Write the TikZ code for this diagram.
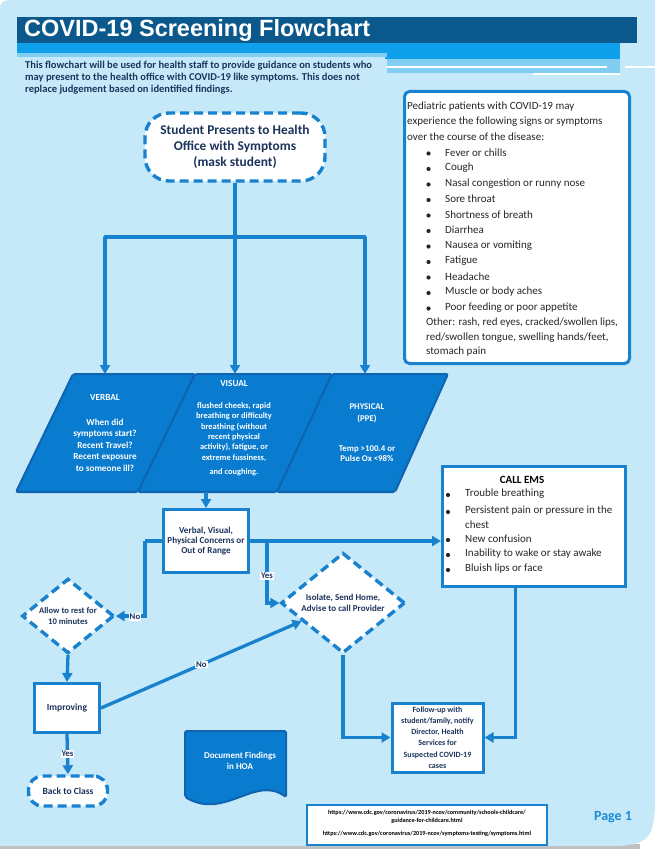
\documentclass[tikz,border=0pt]{standalone}
\usepackage{fontspec}
\setmainfont{Carlito}
\newfontfamily\titlefont{Liberation Sans}
\usetikzlibrary{arrows.meta,shapes.geometric,calc}
\definecolor{bgblue}{RGB}{198,233,250}
\definecolor{lineblue}{RGB}{24,130,206}
\definecolor{paraedge}{RGB}{16,100,175}
\definecolor{parafill}{RGB}{10,124,208}
\definecolor{darkbar}{RGB}{11,88,140}
\definecolor{brightbar}{RGB}{14,160,235}
\definecolor{lightbar}{RGB}{130,205,242}
\definecolor{navy}{RGB}{28,52,92}
\definecolor{pageblue}{RGB}{30,140,210}
\tikzset{
  conn/.style={draw=lineblue, line width=3.3, -{Triangle[length=9,width=10]}},
  plainline/.style={draw=lineblue, line width=3.3},
  whitebox/.style={draw=lineblue, line width=3, fill=white, inner sep=1},
  dashbox/.style={draw=lineblue, line width=3.4, dash pattern=on 9 off 5, fill=white, inner sep=1},
  paraedge/.style={draw=paraedge, line width=2, fill=parafill, rounded corners=2},
  navytext/.style={text=navy, font=\bfseries\fontsize{9}{10}\selectfont, align=center, inner sep=0},
  paratext/.style={text=white, align=center, inner sep=0},
  lbl/.style={fill=white, text=navy, font=\bfseries\fontsize{8.8}{9}\selectfont, inner sep=1},
  listtext/.style={text=black!85, font=\fontsize{11}{12}\selectfont, inner sep=0, anchor=west},
  introtext/.style={anchor=west, text=navy, font=\bfseries\fontsize{10.5}{12}\selectfont, inner sep=0},
}
\begin{document}
\begin{tikzpicture}[x=1pt,y=-1pt]
\useasboundingbox (0,0) rectangle (655,850);
% page background
\fill[white] (0,0) rectangle (655,850);
\fill[black!25] (0,844) rectangle (640,849);
\fill[bgblue] (10,0) -- (655,0) -- (655,800) .. controls (655,838) and (648,846) .. (612,846) -- (0,846) -- (0,10) .. controls (0,3) and (3,0) .. (10,0) -- cycle;
% banner
\fill[darkbar] (17,17) rectangle (637,43);
\fill[brightbar] (17,43) rectangle (620,53);
\fill[brightbar] (385,53) rectangle (620,59);
\fill[lightbar] (387,59) rectangle (620,73);
\fill[lightbar] (17,53) rectangle (387,57);
\draw[white, line width=1.2] (387,67) -- (607,67);
\draw[white, line width=1.2] (533,74) -- (620,74);
\draw[white, line width=1.2] (625,67) -- (655,67);
\node[anchor=base west, text=white, font=\titlefont\bfseries\fontsize{23.5}{24}\selectfont, inner sep=0] (title) at (24,37) {COVID-19 Screening Flowchart};
% intro
\node[introtext] (intro1) at (25,66) {This flowchart will be used for health staff to provide guidance on students who};
\node[introtext] (intro2) at (25,78) {may present to the health office with COVID-19 like symptoms. This does not};
\node[introtext] (intro3) at (25,90) {replace judgement based on identified findings.};

% symptom box
\node[whitebox, rounded corners=5, minimum width=225, minimum height=272, anchor=north west] (sym) at (403,90) {};
\node[listtext] (symi1) at (407,107) {Pediatric patients with COVID-19 may};
\node[listtext] (symi2) at (407,122) {experience the following signs or symptoms};
\node[listtext] (symi3) at (407,137) {over the course of the disease:};
\foreach \t [count=\i] in {Fever or chills, Cough, Nasal congestion or runny nose, Sore throat, Shortness of breath, Diarrhea, Nausea or vomiting, Fatigue, Headache, Muscle or body aches, Poor feeding or poor appetite}{
  \fill[black!85] (428.5,{138+15.5*\i}) circle (2.1);
  \node[listtext] (syml\i) at (445,{137+15.5*\i}) {\t};
}
\node[listtext] (symo1) at (426,323) {Other: rash, red eyes, cracked/swollen lips,};
\node[listtext] (symo2) at (426,338) {red/swollen tongue, swelling hands/feet,};
\node[listtext] (symo3) at (426,352) {stomach pain};

% start
\node[dashbox, rounded corners=24, minimum width=180, minimum height=68, align=center, text=navy, font=\bfseries\fontsize{13.4}{16.3}\selectfont] (start) at (235,147) {Student Presents to Health\\Office with Symptoms\\(mask student)};

% parallelograms
\draw[paraedge] (73,374) -- (195,374) -- (138,492) -- (16,492) -- cycle;
\draw[paraedge] (195,374) -- (332,374) -- (277,492) -- (138,492) -- cycle;
\draw[paraedge] (332,374) -- (448,374) -- (395,492) -- (277,492) -- cycle;
\coordinate (p1top) at (105,374);
\coordinate (p2top) at (235,374);
\coordinate (p3top) at (365,374);
\coordinate (p2bot) at (206,492);

\node[paratext, font=\bfseries\fontsize{9.2}{11.5}\selectfont] (verbal) at (105,398) {VERBAL};
\node[paratext, font=\bfseries\fontsize{9.2}{11.5}\selectfont] (verbalq) at (105,445) {When did\\symptoms start?\\Recent Travel?\\Recent exposure\\to someone ill?};
\node[paratext, font=\bfseries\fontsize{9.2}{11.5}\selectfont] (visual) at (234,384) {VISUAL};
\node[paratext, font=\bfseries\fontsize{8.4}{10.4}\selectfont] (visualq) at (234,432) {flushed cheeks, rapid\\breathing or difficulty\\breathing (without\\recent physical\\activity), fatigue, or\\extreme fussiness,};
\node[paratext, font=\bfseries\fontsize{8.4}{10.4}\selectfont] (visualc) at (234,472) {and coughing.};
\node[paratext, font=\bfseries\fontsize{8.8}{12}\selectfont] (physical) at (367,413) {PHYSICAL\\(PPE)};
\node[paratext, font=\bfseries\fontsize{8.8}{10}\selectfont] (physq) at (367,453.5) {Temp >100.4 or\\Pulse Ox <98\%};

% top connectors
\coordinate (j) at (235,237);
\coordinate (jl) at (105,237);
\coordinate (jr) at (365,237);
\draw[plainline] (start.south) -- (j);
\draw[plainline, line cap=round] (jl) -- (jr);
\draw[conn] (jl) -- (p1top);
\draw[conn] (j) -- (p2top);
\draw[conn] (jr) -- (p3top);

% concern box
\node[whitebox, minimum width=85, minimum height=63, navytext, font=\bfseries\fontsize{9.1}{10.2}\selectfont] (concern) at (206,541) {Verbal, Visual,\\Physical Concerns or\\Out of Range};
\draw[conn] (p2bot) -- (concern.north);

% CALL EMS
\node[whitebox, minimum width=183, minimum height=120, anchor=north west] (ems) at (441,465) {};
\node[text=black, font=\bfseries\fontsize{11}{12}\selectfont, inner sep=0] (emst) at (522,480) {CALL EMS};
\fill[black!85] (448,495) circle (2.1);
\node[listtext] (emsl1) at (465,494) {Trouble breathing};
\fill[black!85] (448,512) circle (2.1);
\node[listtext] (emsl2) at (465,511) {Persistent pain or pressure in the};
\node[listtext] (emsl2b) at (465,525) {chest};
\fill[black!85] (448,540) circle (2.1);
\node[listtext] (emsl3) at (465,539) {New confusion};
\fill[black!85] (448,555) circle (2.1);
\node[listtext] (emsl4) at (465,554) {Inability to wake or stay awake};
\fill[black!85] (448,570) circle (2.1);
\node[listtext] (emsl5) at (465,569) {Bluish lips or face};

\draw[conn] (concern.east) -- (ems.west |- concern.east);

% isolate diamond
\node[shape=diamond, dashbox, minimum width=124, minimum height=92, inner sep=0, navytext, font=\bfseries\fontsize{9}{11}\selectfont] (isolate) at (343,603) {Isolate, Send Home,\\Advise to call Provider};
\coordinate (yb) at (267,541);
\draw[conn] (yb) |- node[lbl, pos=0.28] {Yes} (isolate.west);

% allow diamond
\node[shape=diamond, dashbox, minimum width=92, minimum height=66, inner sep=0, navytext, font=\bfseries\fontsize{8.6}{11}\selectfont] (allow) at (68,616) {Allow to rest for\\10 minutes};
\coordinate (nb) at (145,541);
\draw[plainline] (concern.west) -- (nb);
\draw[conn] (nb) |- (allow.east);
\node[lbl] (nolbl1) at (135,617) {No};

% improving
\node[whitebox, minimum width=65, minimum height=49, navytext, font=\bfseries\fontsize{9.5}{11}\selectfont] (improv) at (67,708) {Improving};
\draw[conn] (allow.south) -- (improv.north);
\node[dashbox, rounded corners=14, minimum width=79, minimum height=30, navytext, font=\bfseries\fontsize{9.5}{11}\selectfont] (back) at (68,791) {Back to Class};
\draw[conn] (improv.south) -- node[lbl, pos=0.5] {Yes} (back.north);
\draw[conn] (improv.east) -- node[lbl, pos=0.5] {No} ($(isolate.west)!0.35!(isolate.south)$);

% follow-up
\node[whitebox, minimum width=91, minimum height=69, navytext, font=\bfseries\fontsize{8}{11.2}\selectfont] (follow) at (437.5,737.5) {Follow-up with\\student/family, notify\\Director, Health\\Services for\\Suspected COVID-19\\cases};
\draw[conn] (isolate.south) |- (follow.west);
\coordinate (emsbot) at ($(ems.south west)!0.4!(ems.south east)$);
\draw[conn] (emsbot) |- (follow.east);

% document
\draw[paraedge] (185,731) -- (286,731) -- (286,797) .. controls (255,775) and (225,820) .. (185,797) -- cycle;
\node[paratext, font=\bfseries\fontsize{9}{11}\selectfont] (doc) at (240,760.5) {Document Findings\\in HOA};

% links
\node[whitebox, line width=2.2, minimum width=240, minimum height=40] (links) at (427,825) {};
\node[text=black, font=\bfseries\fontsize{6.2}{8}\selectfont, align=center, inner sep=0] (linkt) at (427,823.5) {https://www.cdc.gov/coronavirus/2019-ncov/community/schools-childcare/\\guidance-for-childcare.html\\[4.5pt]https://www.cdc.gov/coronavirus/2019-ncov/symptoms-testing/symptoms.html};

\node[text=pageblue, font=\bfseries\fontsize{14}{16}\selectfont, inner sep=0] (page) at (613,817) {Page 1};
\end{tikzpicture}
\end{document}
